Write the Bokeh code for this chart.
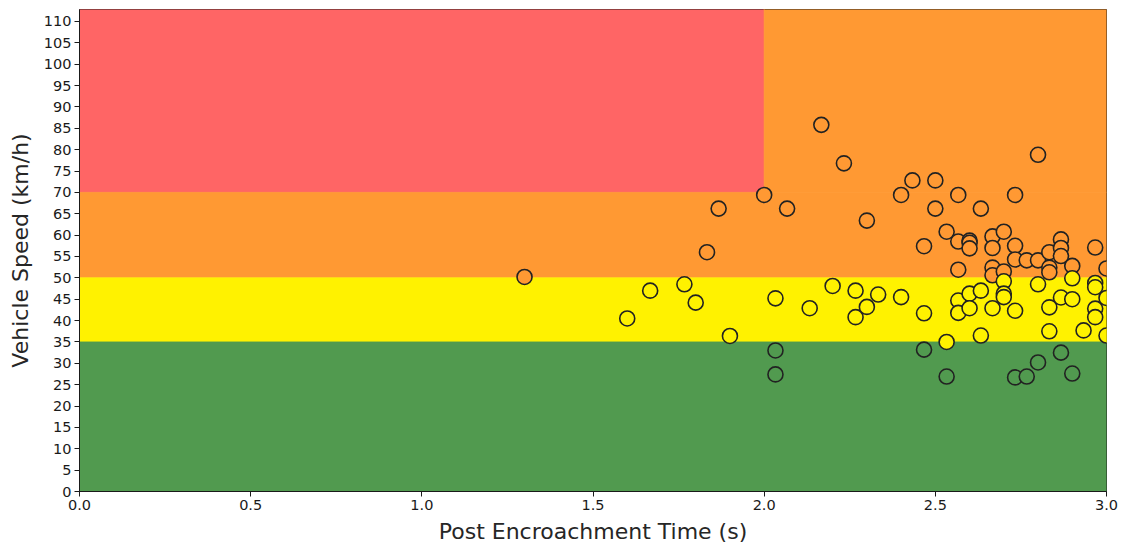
from bokeh.plotting import figure
from bokeh.models import Range1d, FixedTicker, NumeralTickFormatter, ColumnDataSource
from bokeh.embed import file_html
from bokeh.resources import INLINE

# Post Encroachment Time (s) and vehicle speed (km/h)
pet = [1.3, 1.6, 1.667, 1.767, 1.8, 1.833, 1.867, 1.9, 2.0, 2.033, 2.033, 2.033, 2.067,
       2.133, 2.167, 2.2, 2.233, 2.267, 2.267, 2.3, 2.3, 2.333, 2.4, 2.4, 2.433,
       2.467, 2.467, 2.467, 2.5, 2.5, 2.533, 2.533, 2.533,
       2.567, 2.567, 2.567, 2.567, 2.567,
       2.6, 2.6, 2.6, 2.6, 2.6,
       2.633, 2.633, 2.633,
       2.667, 2.667, 2.667, 2.667, 2.667,
       2.7, 2.7, 2.7, 2.7, 2.7,
       2.733, 2.733, 2.733, 2.733, 2.733,
       2.767, 2.767,
       2.8, 2.8, 2.8, 2.8,
       2.833, 2.833, 2.833, 2.833, 2.833,
       2.867, 2.867, 2.867, 2.867, 2.867,
       2.9, 2.9, 2.9, 2.9,
       2.933,
       2.967, 2.967, 2.967, 2.967, 2.967,
       3.0, 3.0, 3.0]
speed = [50.2, 40.5, 47.0, 48.5, 44.2, 56.0, 66.2, 36.4, 69.4, 45.2, 33.0, 27.4, 66.2,
         42.9, 85.8, 48.1, 76.8, 47.0, 40.8, 63.4, 43.2, 46.1, 69.4, 45.5, 72.8,
         41.7, 33.2, 57.4, 72.8, 66.2, 60.8, 35.0, 26.9,
         69.4, 58.5, 51.9, 44.7, 41.8,
         58.7, 58.2, 56.9, 46.3, 42.9,
         66.2, 47.0, 36.5,
         59.7, 57.0, 52.4, 50.6, 42.9,
         60.8, 51.5, 49.2, 46.3, 45.5,
         69.4, 57.5, 54.3, 42.3, 26.7,
         54.1, 26.9,
         78.8, 54.1, 48.5, 30.2,
         56.0, 52.4, 51.3, 43.1, 37.5,
         59.0, 57.0, 55.1, 45.4, 32.5,
         52.8, 49.9, 45.0, 27.6,
         37.7,
         57.1, 48.8, 47.8, 42.8, 40.8,
         52.2, 45.3, 36.5]

# Risk zones
zone_left = [0.0, 2.0, 0.0, 0.0, 0.0]
zone_right = [2.0, 3.0, 3.0, 3.0, 3.0]
zone_bottom = [70, 70, 50, 35, 0]
zone_top = [113, 113, 70, 50, 35]
zone_colors = ["#FF6565", "#FF9933", "#FF9933", "#FFF200", "#519A4F"]

X_MAX, Y_MAX = 3.0, 112.8


def zone_color(x, y):
    for l, r, b, t, c in zip(zone_left, zone_right, zone_bottom, zone_top, zone_colors):
        if l <= x <= r and b <= y <= t:
            return c
    return zone_colors[-1]


pt_colors = [zone_color(x, y) for x, y in zip(pet, speed)]

p = figure(width=1124, height=546, output_backend="svg", toolbar_location=None,
           x_range=Range1d(0, X_MAX), y_range=Range1d(0, Y_MAX),
           min_border_left=79, min_border_right=18, min_border_top=9, min_border_bottom=55)

p.quad(left=zone_left, right=zone_right, bottom=zone_bottom, top=zone_top,
       fill_color=zone_colors, line_color=zone_colors, line_width=0.8)

src = ColumnDataSource(dict(x=pet, y=speed, c=pt_colors))
p.scatter("x", "y", source=src, size=15, fill_color="c", line_color="#222222", line_width=1.6)

p.xgrid.visible = False
p.ygrid.visible = False
p.outline_line_color = "#1a1a1a"
p.outline_line_width = 1

p.xaxis.ticker = FixedTicker(ticks=[0.0, 0.5, 1.0, 1.5, 2.0, 2.5, 3.0])
p.xaxis.formatter = NumeralTickFormatter(format="0.0")
p.yaxis.ticker = FixedTicker(ticks=list(range(0, 111, 5)))

for ax in (p.xaxis[0], p.yaxis[0]):
    ax.major_label_text_font = "DejaVu Sans"
    ax.major_label_text_font_size = "14.5px"
    ax.major_label_text_color = "#1a1a1a"
    ax.axis_label_text_font = "DejaVu Sans"
    ax.axis_label_text_font_size = "22px"
    ax.axis_label_text_font_style = "normal"
    ax.axis_label_text_color = "#262626"
    ax.major_tick_in = 0
    ax.major_tick_out = 5
    ax.minor_tick_in = 0
    ax.minor_tick_out = 0
    ax.axis_line_color = "#1a1a1a"
    ax.major_tick_line_color = "#1a1a1a"

p.xaxis.axis_label = "Post Encroachment Time (s)"
p.yaxis.axis_label = "Vehicle Speed (km/h)"
p.xaxis.axis_label_standoff = 6
p.yaxis.axis_label_standoff = 8
p.yaxis.major_label_standoff = 3
p.xaxis.major_label_standoff = 3

open("out.html", "w").write(file_html(p, INLINE))
